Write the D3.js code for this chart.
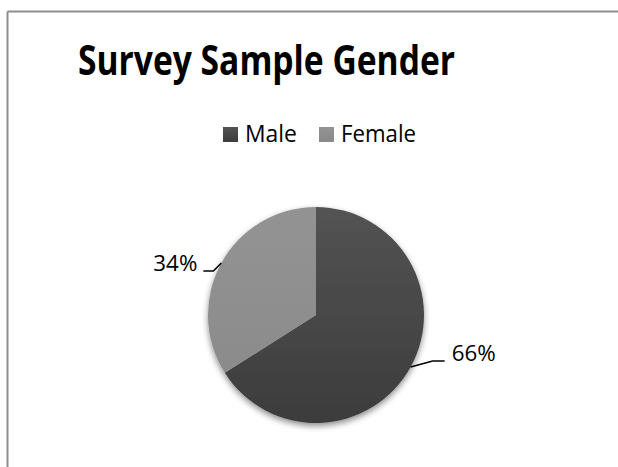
<!DOCTYPE html>
<html>
<head>
<meta charset="utf-8">
<script src="https://cdn.jsdelivr.net/npm/d3@7"></script>
<style>
  html, body { margin: 0; background: #fff; overflow: hidden; }
  svg { display: block; font-family: "Open Sans", "Liberation Sans", sans-serif; }
</style>
</head>
<body>
<div id="chart"></div>
<script>
'use strict';

var title = 'Survey Sample Gender';
var categories = ['Male', 'Female'];
var values = [66, 34];
var labels = ['66%', '34%'];

var width = 618, height = 467;
var cx = 316, cy = 315, radius = 108;

var colorTop = { Male: '#535353', Female: '#939393' };
var colorBottom = { Male: '#3c3c3c', Female: '#898989' };

var svg = d3.select('#chart').append('svg')
  .attr('width', width)
  .attr('height', height);

var defs = svg.append('defs');

categories.forEach(function(c) {
  var g = defs.append('linearGradient')
    .attr('id', 'grad-' + c)
    .attr('x1', 0).attr('y1', 0).attr('x2', 0).attr('y2', 1);
  g.append('stop').attr('offset', '0%').attr('stop-color', colorTop[c]);
  g.append('stop').attr('offset', '100%').attr('stop-color', colorBottom[c]);

  // pie-wide gradient (userSpace so both slices share it)
  var pg = defs.append('linearGradient')
    .attr('id', 'pgrad-' + c)
    .attr('gradientUnits', 'userSpaceOnUse')
    .attr('x1', 0).attr('y1', -radius).attr('x2', 0).attr('y2', radius);
  pg.append('stop').attr('offset', '0%').attr('stop-color', colorTop[c]);
  pg.append('stop').attr('offset', '100%').attr('stop-color', colorBottom[c]);
});

var shadow = defs.append('filter')
  .attr('id', 'shadow')
  .attr('x', '-20%').attr('y', '-20%').attr('width', '140%').attr('height', '140%');
shadow.append('feDropShadow')
  .attr('dx', 0).attr('dy', 3)
  .attr('stdDeviation', 3)
  .attr('flood-color', '#000')
  .attr('flood-opacity', 0.45);

// chart frame: only top and left edges are in view
svg.append('line')
  .attr('x1', 7.5).attr('y1', 11.5).attr('x2', width + 40).attr('y2', 11.5)
  .attr('stroke', '#8e8e8e').attr('stroke-width', 2);
svg.append('line')
  .attr('x1', 7.5).attr('y1', 11.5).attr('x2', 7.5).attr('y2', height + 40)
  .attr('stroke', '#8e8e8e').attr('stroke-width', 2);

// title
svg.append('text')
  .attr('x', 78).attr('y', 75)
  .attr('textLength', 377)
  .attr('lengthAdjust', 'spacingAndGlyphs')
  .style('font-size', '41px')
  .style('font-weight', 'bold')
  .style('fill', '#000')
  .text(title);

// legend
var legendX = [223, 319];
var legendW = [52, 75];
var legend = svg.selectAll('.legend')
  .data(categories)
  .enter()
  .append('g')
  .attr('class', 'legend')
  .attr('transform', function(d, i) { return 'translate(' + legendX[i] + ',127)'; });

legend.append('rect')
  .attr('width', 15).attr('height', 15)
  .attr('fill', function(d) { return 'url(#grad-' + d + ')'; });

legend.append('text')
  .attr('x', 22).attr('y', 15)
  .attr('textLength', function(d, i) { return legendW[i]; })
  .attr('lengthAdjust', 'spacingAndGlyphs')
  .style('font-size', '23px')
  .style('fill', '#000')
  .text(function(d) { return d; });

// pie
var pie = d3.pie().sort(null).value(function(d) { return d; });
var arcs = pie(values);
var arc = d3.arc().innerRadius(0).outerRadius(radius);

var chart = svg.append('g')
  .attr('class', 'main_group')
  .attr('transform', 'translate(' + cx + ',' + cy + ')');

chart.append('g')
  .attr('filter', 'url(#shadow)')
  .selectAll('path')
  .data(arcs)
  .enter()
  .append('path')
  .attr('d', arc)
  .attr('fill', function(d, i) { return 'url(#pgrad-' + categories[i] + ')'; });

// data labels with leader lines
var elbow = [{ dx: 22, dy: -6 }, { dx: -8, dy: 8 }];
var tail = [12, -10];

arcs.forEach(function(a, i) {
  var mid = (a.startAngle + a.endAngle) / 2;
  var px = radius * Math.sin(mid);
  var py = -radius * Math.cos(mid);
  var ex = px + elbow[i].dx;
  var ey = py + elbow[i].dy;
  var tx = ex + tail[i];

  chart.append('path')
    .attr('d', 'M' + px + ',' + py + 'L' + ex + ',' + ey + 'L' + tx + ',' + ey)
    .attr('fill', 'none')
    .attr('stroke', '#000')
    .attr('stroke-width', 1.5);

  chart.append('text')
    .attr('x', tx + (tail[i] > 0 ? 7 : -6))
    .attr('y', ey)
    .attr('text-anchor', tail[i] > 0 ? 'start' : 'end')
    .attr('textLength', 44)
    .attr('lengthAdjust', 'spacingAndGlyphs')
    .style('font-size', '22px')
    .style('fill', '#000')
    .text(labels[i]);
});
</script>
</body>
</html>
